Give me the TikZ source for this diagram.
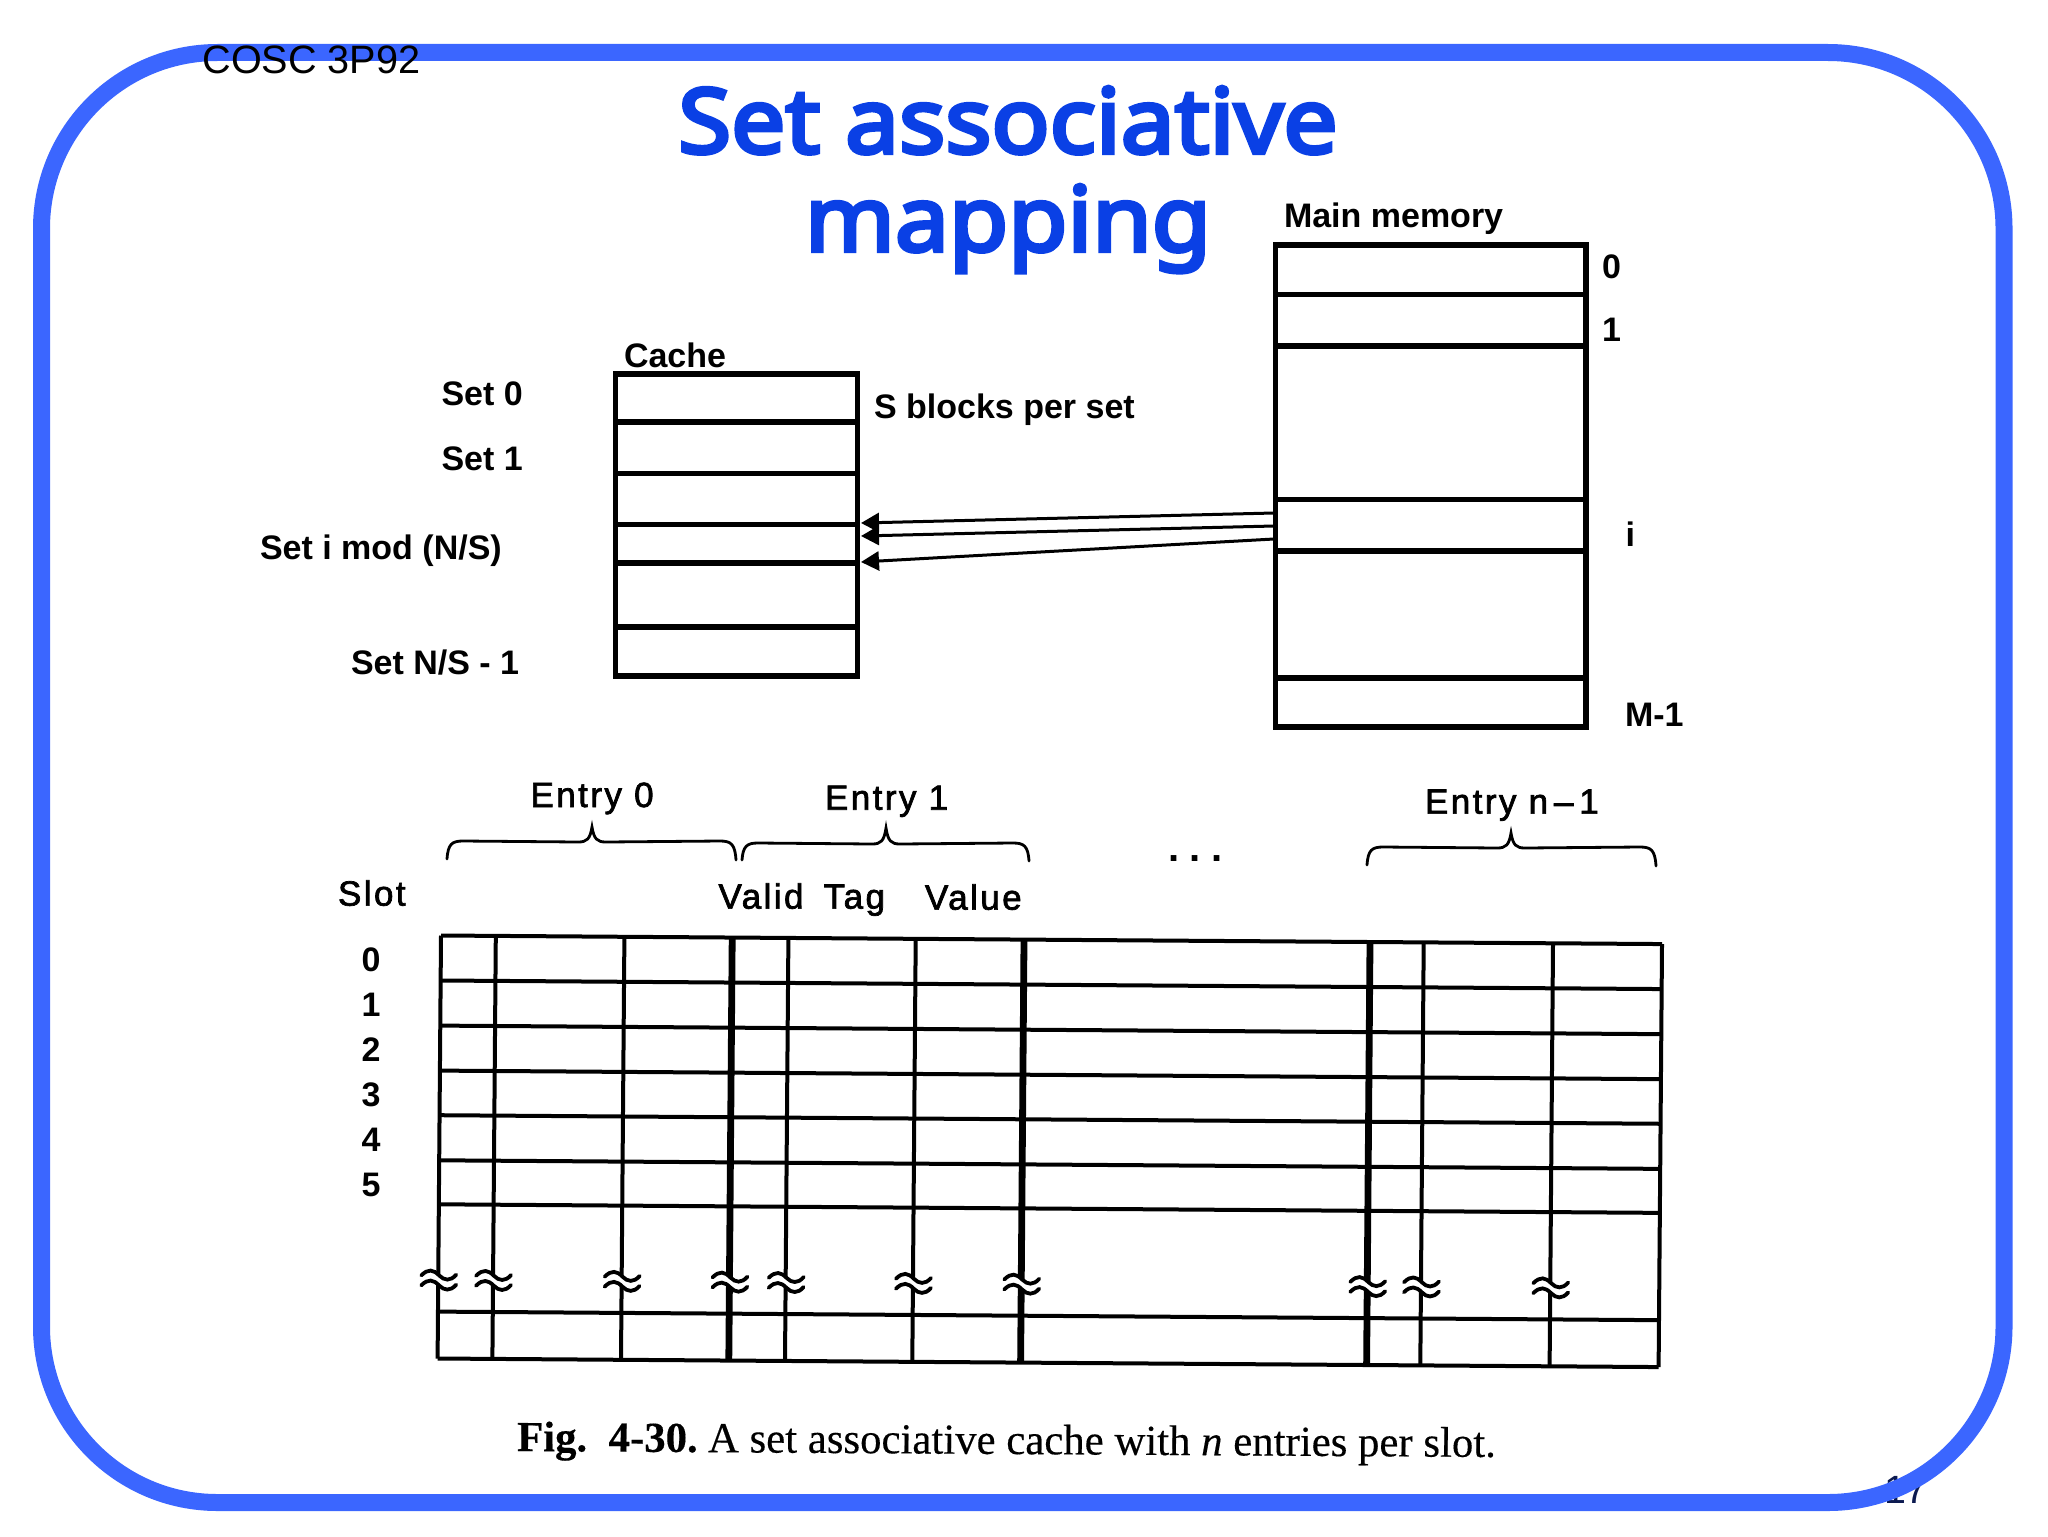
\documentclass[tikz,border=0pt]{standalone}
\usepackage{fontspec}
\setmainfont{Liberation Sans}
\newfontfamily\titlefont[FakeBold=4.5,FakeStretch=1.07]{Noto Sans}
\newfontfamily\capfont[FakeBold=0.3]{Liberation Serif}
\newfontfamily\scanfont[LetterSpace=7,FakeBold=2]{Liberation Sans}
\newfontfamily\dotfont[LetterSpace=26]{Liberation Sans}
\usetikzlibrary{arrows.meta}
\definecolor{bordblue}{HTML}{3B66FF}
\definecolor{titleblue}{HTML}{0A40E5}
\definecolor{pagenum}{HTML}{0C1A50}
\tikzset{
  txt/.style={inner sep=0pt,outer sep=0pt,anchor=base west,text=black},
  lbl/.style={txt,font=\bfseries\fontsize{17pt}{20pt}\selectfont},
  scan/.style={txt,font=\scanfont\fontsize{17.5pt}{20pt}\selectfont},
  digit/.style={inner sep=0pt,outer sep=0pt,anchor=base,font=\bfseries\fontsize{17pt}{20pt}\selectfont},
  titletxt/.style={inner sep=0pt,outer sep=0pt,anchor=base,text=titleblue,font=\titlefont\fontsize{45pt}{49pt}\selectfont},
  boxline/.style={draw=black,line width=2.6pt},
  thingrid/.style={draw=black,line width=2pt},
  thickgrid/.style={draw=black,line width=3.4pt},
  brc/.style={draw=black,line width=1.4pt,line cap=round},
  wave/.style={draw=black,line width=1.9pt,line cap=round},
  arr/.style={draw=black,line width=1.5pt,-{Triangle[length=9pt,width=9.5pt]}}
}
\newcommand\bracedraw[7]{%
  \draw[brc] (#1,#2) .. controls (#1+1,#7+3) and (#1+5,#7) .. (#1+16,#7)
    -- (#3-14,#7+1) .. controls (#3-5,#7+1) and (#3-2,#7-2) .. (#3,#4)
    .. controls (#3+2,#7-2) and (#3+5,#7+1) .. (#3+14,#7+1)
    -- (#5-16,#7) .. controls (#5-5,#7) and (#5-1,#7+3) .. (#5,#6);}
\begin{document}
\begin{tikzpicture}[x=0.5pt,y=-0.5pt]
\useasboundingbox (0,0) rectangle (2048,1536);
% page number sits behind the frame
\node[txt,text=pagenum,font=\fontsize{19.7pt}{22pt}\selectfont] (pageno) at (1884,1503) {17};
% frame
\draw[bordblue,line width=8.5pt,rounded corners=88pt] (41.5,52.5) rectangle (2004,1502.5);
\node[txt,font=\fontsize{19.8pt}{22pt}\selectfont] (course) at (202.5,73.5) {COSC 3P92};
% title
\node[titletxt] (title1) at (1008,153) {Set associative};
\node[titletxt] (title2) at (1008,251) {mapping};
% cache
\draw[boxline] (615.5,374) rectangle (857.5,676);
\foreach \y in {422,473.5,524.5,563,627}{\draw[boxline] (615.5,\y) -- (857.5,\y);}
% main memory
\draw[boxline] (1275.5,245) rectangle (1586,727);
\foreach \y in {294.5,346,499.5,551,678}{\draw[boxline] (1275.5,\y) -- (1586,\y);}
\coordinate (memA) at (1274,513);
\coordinate (memB) at (1274,526);
\coordinate (memC) at (1274,539);
\coordinate (cacheA) at (861,523);
\coordinate (cacheB) at (861,536);
\coordinate (cacheC) at (861,562);
\draw[arr] (memA) -- (cacheA);
\draw[arr] (memB) -- (cacheB);
\draw[arr] (memC) -- (cacheC);
% upper labels
\node[lbl] (cachelbl) at (624,367) {Cache};
\node[lbl] (set0) at (441.5,405.5) {Set 0};
\node[lbl] (set1) at (441.5,470) {Set 1};
\node[lbl] (seti) at (260,559.5) {Set i mod (N/S)};
\node[lbl] (setn) at (351,674.5) {Set N/S - 1};
\node[lbl] (sblocks) at (874,418) {S blocks per set};
\node[lbl] (mainlbl) at (1284,227) {Main memory};
\node[lbl] (m0) at (1602,278) {0};
\node[lbl] (m1) at (1602,341.5) {1};
\node[lbl] (mi) at (1625.5,546.5) {i};
\node[lbl] (mm) at (1625,726) {M-1};
% lower labels
\node[scan] (e0) at (530.5,807) {Entry 0};
\node[scan] (e1) at (825,809.7) {Entry 1};
\node[scan] (en) at (1425,813.6) {Entry n\,–\,1};
\node[scan] (slot) at (338,905.6) {Slot};
\node[scan] (vt) at (718.5,908.6) {Valid\hspace{4pt} Tag};
\node[scan] (val) at (925,909.6) {Value};
\node[txt,font=\dotfont\bfseries\fontsize{20pt}{22pt}\selectfont] (dots) at (1168,861) {...};
\node[digit] (s0) at (371,971) {0};
\node[digit] (s1) at (371,1016) {1};
\node[digit] (s2) at (371,1061) {2};
\node[digit] (s3) at (371,1106) {3};
\node[digit] (s4) at (371,1151) {4};
\node[digit] (s5) at (371,1196) {5};
% braces
\bracedraw{447}{859}{592}{827}{736}{860}{841}
\bracedraw{742}{860}{886}{828}{1029}{861}{843}
\bracedraw{1367}{865}{1511}{833}{1656}{866}{847}
% grid (the scan is slightly skewed)
\begin{scope}[cm={1,-0.007,0.00804,1,(441,935.5)}]
  \foreach \y in {0,45,90.1,135.1,179.7,224.8,268.8,376.1,423}{\draw[thingrid] (0,\y) -- (1221,\y);}
  \foreach \x in {0,54.8,183.4,347.4,474.7,982.7,1112,1221}{\draw[thingrid] (\x,0) -- (\x,423);}
  \foreach \x in {291.2,583,929}{\draw[thickgrid] (\x,0) -- (\x,423);}
  \foreach \x in {0,54.8,183.4,291.2,347.4,474.7,583,929,982.7,1112}{
    \begin{scope}[shift={(\x,345)}]
      \fill[white] (-17,-5) .. controls (-10,-12) and (-5,-11) .. (1,-5) .. controls (6,0) and (12,1) .. (18,-6)
        -- (18,4) .. controls (12,11) and (6,10) .. (1,5) .. controls (-5,-1) and (-10,-2) .. (-17,5) -- cycle;
      \draw[wave] (-17,-5) .. controls (-10,-12) and (-5,-11) .. (1,-5) .. controls (6,0) and (12,1) .. (18,-6);
      \draw[wave] (-17,5) .. controls (-10,-2) and (-5,-1) .. (1,5) .. controls (6,10) and (12,11) .. (18,4);
    \end{scope}
  }
\end{scope}
% caption
\node[txt,rotate=-0.35,font=\capfont\fontsize{21.4pt}{24pt}\selectfont] (caption) at (517,1451)
  {\textbf{Fig.\ \ 4-30.}\hspace{-2pt} A set associative cache with \textit{n} entries per slot.};
\end{tikzpicture}
\end{document}
